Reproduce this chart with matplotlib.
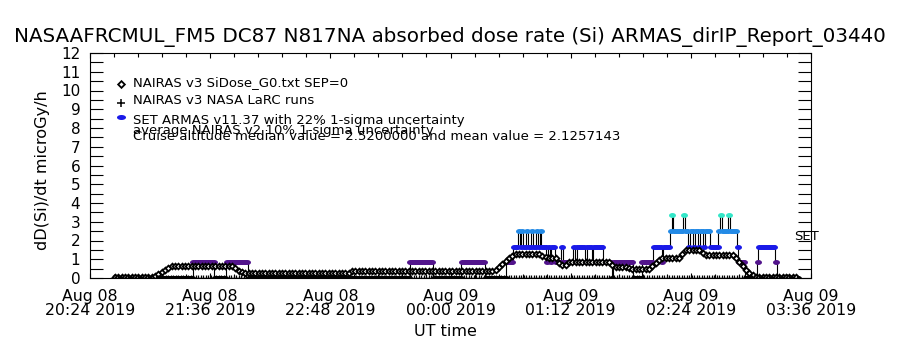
import numpy as np
import matplotlib
matplotlib.use('Agg')
import matplotlib.pyplot as plt
from matplotlib.ticker import MultipleLocator, FixedLocator
from matplotlib.path import Path

# ---------------- data (minutes after 2019-08-08 20:24 UT) ----------------
tick_minutes = [0, 72, 144, 216, 288, 360, 432]
tick_labels = ['Aug 08\n20:24 2019', 'Aug 08\n21:36 2019', 'Aug 08\n22:48 2019',
               'Aug 09\n00:00 2019', 'Aug 09\n01:12 2019', 'Aug 09\n02:24 2019',
               'Aug 09\n03:36 2019']

# NAIRAS v3 SiDose_G0 (diamonds), 2-minute cadence starting at minute 15
nairas_start, nairas_step = 15, 2
nairas_vals = ([0.05] * 12 +
               [0.1, 0.2, 0.32, 0.44, 0.55, 0.64] +
               [0.64] * 18 +
               [0.52, 0.40, 0.30] +
               [0.25] * 32 +
               [0.36] * 43 +
               [0.45, 0.6, 0.75, 0.9, 1.05, 1.18, 1.3] +
               [1.3] * 7 +
               [1.2, 1.1] +
               [1.07] * 3 +
               [0.8, 0.7, 0.72] +
               [0.87] * 13 +
               [0.7] + [0.6] * 4 +
               [0.52] + [0.47] * 6 +
               [0.62, 0.8, 0.95] +
               [1.07] * 6 +
               [1.3] +
               [1.49] * 5 +
               [1.35] +
               [1.25] * 9 +
               [1.05, 0.85, 0.65, 0.45, 0.28, 0.15] +
               [0.05] * 13)

# NAIRAS v3 NASA LaRC runs (plus signs), all at zero
larc_start, larc_end, larc_step = 14, 424, 1.5
larc_value = 0.0

# SET ARMAS dose rate, 1-minute cadence: minute at which level changes, and level
armas_change_t = [16, 62, 75, 82, 95, 192, 206, 223, 237, 250, 254, 257, 258, 259, 260,
                  262, 263, 265, 266, 268, 269, 270, 271, 274, 275, 276, 277, 279, 283,
                  284, 290, 291, 292, 297, 298, 301, 302, 308, 313, 314, 326, 331, 338,
                  343, 344, 348, 349, 350, 356, 357, 359, 360, 362, 363, 365, 366, 368,
                  369, 372, 377, 378, 379, 383, 384, 388, 389, 393, 400, 401, 411, 412]
armas_change_v = [0, 0.84, 0, 0.84, 0, 0.84, 0, 0.84, 0, 0.84, 1.68, 2.52, 1.68, 2.52, 1.68,
                  2.52, 1.68, 2.52, 1.68, 2.52, 1.68, 2.52, 1.68, 0.84, 1.68, 0.84, 1.68, 0.84, 1.68,
                  0.84, 1.68, 0.84, 1.68, 0.84, 1.68, 0.84, 1.68, 0.84, 0, 0.84, 0, 0.84, 1.68,
                  0.84, 1.68, 2.52, 3.36, 2.52, 3.36, 2.52, 1.68, 2.52, 1.68, 2.52, 1.68, 2.52, 1.68,
                  2.52, 1.68, 2.52, 3.36, 2.52, 3.36, 2.52, 1.68, 0.84, 0, 0.84, 1.68, 0.84, 0]
armas_end = 424
armas_levels = [0, 0.84, 1.68, 2.52, 3.36]
armas_colors = ['#000000', '#52148c', '#1a1ae8', '#238ae6', '#33e6c8']

title = 'NASAAFRCMUL_FM5 DC87 N817NA absorbed dose rate (Si) ARMAS_dirIP_Report_03440'
legend_lines = ['NAIRAS v3 SiDose_G0.txt SEP=0',
                'NAIRAS v3 NASA LaRC runs',
                'SET ARMAS v11.37 with 22% 1-sigma uncertainty',
                'average NAIRAS v2 10% 1-sigma uncertainty',
                'Cruise altitude median value = 2.5200000 and mean value = 2.1257143']

# ---------------- figure ----------------
plt.rcParams['font.family'] = ['DejaVu Sans']
W, H = 900, 350
fig = plt.figure(figsize=(W / 100, H / 100), dpi=100, facecolor='white')
L, R, T, B = 90, 811, 53, 278
ax = fig.add_axes([L / W, 1 - B / H, (R - L) / W, (B - T) / H])

def fy(py):
    return 1 - py / H

# ellipse marker
th = np.linspace(0, 2 * np.pi, 41)
ell = Path(np.column_stack([1.4 * np.cos(th), np.sin(th)]))

# ARMAS series
armas_t = np.arange(armas_change_t[0], armas_end + 1)
idx = np.searchsorted(armas_change_t, armas_t, side='right') - 1
armas_v = np.asarray(armas_change_v)[idx]
ax.plot(armas_t, armas_v, color='black', lw=0.8, drawstyle='steps-mid', zorder=2)
for lev, col in zip(armas_levels, armas_colors):
    m = np.isclose(armas_v, lev)
    ax.plot(armas_t[m], armas_v[m], ls='none', marker=ell, ms=5.0, mfc=col, mec=col,
            mew=0, zorder=3)

# NAIRAS diamonds
nairas_t = nairas_start + nairas_step * np.arange(len(nairas_vals))
ax.plot(nairas_t, nairas_vals, ls='none', marker='D', ms=2.9, mfc='white', mec='black',
        mew=1.3, zorder=4)

# LaRC plus signs
larc_t = np.arange(larc_start, larc_end + 0.01, larc_step)
ax.plot(larc_t, np.full(len(larc_t), larc_value), ls='none', marker='+', ms=5,
        color='black', mew=0.9, zorder=4)

ax.set_xlim(tick_minutes[0], tick_minutes[-1])
ax.set_ylim(0, 12)
ax.xaxis.set_major_locator(FixedLocator(tick_minutes))
ax.set_xticklabels(tick_labels, fontsize=11.3, linespacing=0.92)
ax.xaxis.set_minor_locator(MultipleLocator(14.4))
ax.yaxis.set_major_locator(MultipleLocator(1))
ax.yaxis.set_minor_locator(MultipleLocator(0.5))
ax.tick_params(axis='x', which='major', direction='in', length=3.8, width=0.8,
               top=True, bottom=True, pad=8)
ax.tick_params(axis='x', which='minor', direction='in', length=2.6, width=0.8,
               top=True, bottom=True)
ax.tick_params(axis='y', which='both', direction='in', length=9.5, width=0.8,
               left=True, right=True, pad=7, labelsize=11)
for s in ax.spines.values():
    s.set_linewidth(0.8)

ax.text(421.8, 2.19, 'SET', fontsize=9.5, ha='left', va='center', clip_on=False, zorder=6)

# titles
t_title = fig.text(0.5, fy(37), title, ha='center', va='center', fontsize=14)
t_ylab = fig.text(43 / W, fy(170), 'dD(Si)/dt microGy/h', rotation=90, ha='center',
                  va='center', fontsize=11)
t_xlab = fig.text(445 / W, fy(332), 'UT time', ha='center', va='center', fontsize=11.5)

# legend
leg_base = [86, 104.3, 124, 134, 139.5]
leg_texts = [fig.text(133 / W, fy(b), s, ha='left', va='baseline', fontsize=9)
             for s, b in zip(legend_lines, leg_base)]
ax.plot([121 / W], [fy(84)], transform=fig.transFigure, clip_on=False, ls='none',
        marker='D', ms=3.4, mfc='white', mec='black', mew=1.3)
ax.plot([121 / W], [fy(102.5)], transform=fig.transFigure, clip_on=False, ls='none',
        marker='+', ms=5.5, color='black', mew=1.1)
ell2 = Path(np.column_stack([1.8 * np.cos(th), np.sin(th)]))
ax.plot([121 / W], [fy(117.5)], transform=fig.transFigure, clip_on=False, ls='none',
        marker=ell2, ms=6.5, mfc=armas_colors[2], mec=armas_colors[2], mew=0)

# fit text sizes to reference extents
fig.canvas.draw()
r = fig.canvas.get_renderer()
def fit_w(t, target):
    w = t.get_window_extent(r).width
    t.set_fontsize(t.get_fontsize() * target / w)
def fit_h(t, target):
    h = t.get_window_extent(r).height
    t.set_fontsize(t.get_fontsize() * target / h)
fit_w(t_title, 870)
fit_h(t_ylab, 160)
w3 = leg_texts[2].get_window_extent(r).width
fs_leg = leg_texts[2].get_fontsize() * 330 / w3
for t in leg_texts:
    t.set_fontsize(fs_leg)

fig.savefig('out.png', dpi=100, facecolor='white')
